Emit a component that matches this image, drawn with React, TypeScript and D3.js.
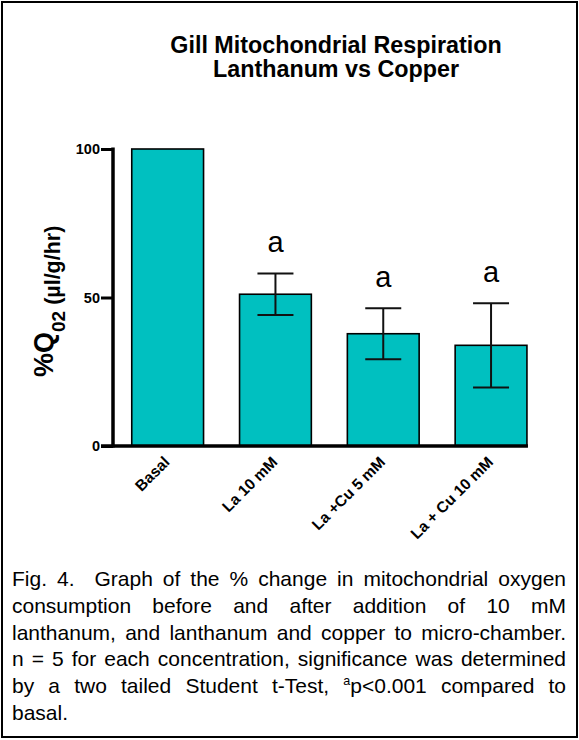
import React, { useEffect, useRef } from "react";
import * as d3 from "d3";

// Chart data
const categories = ["Basal", "La 10 mM", "La +Cu 5 mM", "La + Cu 10 mM"];
const meanValues = [100, 51.1, 37.8, 33.9];
const semValues = [0, 7.0, 8.6, 14.2];
const sigLabels = ["", "a", "a", "a"];
const yTickValues = [0, 50, 100];

const titleLines = ["Gill Mitochondrial Respiration", "Lanthanum vs Copper"];

// Caption lines; "^a" marks a superscript letter
const captionLines = [
  "Fig. 4.  Graph of the % change in mitochondrial oxygen",
  "consumption before and after addition of 10 mM",
  "lanthanum, and lanthanum and copper to micro-chamber.",
  "n = 5 for each concentration, significance was determined",
  "by a two tailed Student t-Test, ^ap<0.001 compared to",
  "basal.",
];

const W = 579;
const H = 740;
const FONT = "'Liberation Sans', Arial, Helvetica, sans-serif";
const TEAL = "#00C0C0";

export default function App() {
  const ref = useRef<SVGSVGElement | null>(null);

  useEffect(() => {
    const svg = d3.select(ref.current);
    svg.selectAll("*").remove();

    // Outer frame
    svg
      .append("rect")
      .attr("x", 2)
      .attr("y", 2)
      .attr("width", 575)
      .attr("height", 735)
      .attr("fill", "white")
      .attr("stroke", "black")
      .attr("stroke-width", 2);

    // Title
    svg
      .append("g")
      .selectAll("text")
      .data(titleLines)
      .join("text")
      .attr("x", 336)
      .attr("y", (_, i) => 53 + i * 23.5)
      .attr("text-anchor", "middle")
      .attr("font-family", FONT)
      .attr("font-weight", "bold")
      .attr("font-size", 23.3)
      .text((d) => d);

    const x = d3
      .scaleBand<string>()
      .domain(categories)
      .range([113, 545.7])
      .paddingInner(0.334)
      .paddingOuter(0.174);
    const y = d3.scaleLinear().domain([0, 100]).range([446, 149]);

    const g = svg.append("g");

    // Bars
    g.selectAll("rect.bar")
      .data(categories)
      .join("rect")
      .attr("class", "bar")
      .attr("x", (d) => x(d)!)
      .attr("width", x.bandwidth())
      .attr("y", (_, i) => y(meanValues[i]))
      .attr("height", (_, i) => y(0) - y(meanValues[i]))
      .attr("fill", TEAL)
      .attr("stroke", "black")
      .attr("stroke-width", 1.6);

    // Error bars (mean ± SEM)
    const capHalf = 18;
    categories.forEach((c, i) => {
      if (semValues[i] <= 0) return;
      const cx = x(c)! + x.bandwidth() / 2;
      const top = y(meanValues[i] + semValues[i]);
      const bot = y(meanValues[i] - semValues[i]);
      const eg = g.append("g").attr("stroke", "#111").attr("stroke-width", 2);
      eg.append("line").attr("x1", cx).attr("x2", cx).attr("y1", top).attr("y2", bot);
      eg.append("line").attr("x1", cx - capHalf).attr("x2", cx + capHalf).attr("y1", top).attr("y2", top);
      eg.append("line").attr("x1", cx - capHalf).attr("x2", cx + capHalf).attr("y1", bot).attr("y2", bot);
    });

    // Significance letters
    g.selectAll("text.sig")
      .data(categories)
      .join("text")
      .attr("class", "sig")
      .attr("x", (d) => x(d)! + x.bandwidth() / 2)
      .attr("y", (_, i) => y(meanValues[i] + semValues[i]) - 21)
      .attr("text-anchor", "middle")
      .attr("font-family", FONT)
      .attr("font-size", 29)
      .text((_, i) => sigLabels[i]);

    // Y axis
    const yAxis = d3
      .axisLeft(y)
      .tickValues(yTickValues)
      .tickSize(12)
      .tickPadding(1)
      .tickFormat(d3.format("d"));
    const ya = svg.append("g").attr("transform", "translate(113,0)").call(yAxis);
    ya.select(".domain")
      .attr("d", `M0,${y(100) - 1.5}V${y(0) + 1.5}`)
      .attr("stroke", "black")
      .attr("stroke-width", 3.5);
    ya.selectAll(".tick line").attr("stroke", "black").attr("stroke-width", 3);
    ya.selectAll(".tick text")
      .attr("font-family", FONT)
      .attr("font-weight", "bold")
      .attr("font-size", 14.5)
      .attr("fill", "black");

    // X axis
    const xAxis = d3.axisBottom(x).tickSize(0).tickPadding(0);
    const xa = svg.append("g").attr("transform", `translate(0,${y(0)})`).call(xAxis);
    xa.select(".domain")
      .attr("d", `M101,0H${x(categories[categories.length - 1])! + x.bandwidth() + 1}`)
      .attr("stroke", "black")
      .attr("stroke-width", 3.5);
    xa.selectAll(".tick text")
      .attr("font-family", FONT)
      .attr("font-weight", "bold")
      .attr("font-size", 15.5)
      .attr("fill", "black")
      .attr("text-anchor", "end")
      .attr("dy", null)
      .attr("y", null)
      .attr("transform", "translate(3,17) rotate(-45)");

    // Y axis title: %Q02 (µl/g/hr)
    const yt = svg
      .append("text")
      .attr("transform", "translate(53,377) rotate(-90)")
      .attr("font-family", FONT)
      .attr("font-weight", "bold")
      .attr("fill", "black");
    yt.append("tspan").attr("font-size", 27).text("%Q");
    yt.append("tspan").attr("font-size", 19).attr("dy", 12).text("02");
    yt.append("tspan").attr("font-size", 21.5).attr("dy", -5).text(" (µl/g/hr)");

    // Caption, justified between left and right margins
    const capFontSize = 21;
    const capFont = `${capFontSize}px 'Liberation Sans', Arial, sans-serif`;
    const canvas = document.createElement("canvas");
    const ctx = canvas.getContext("2d")!;
    ctx.font = capFont;
    const supFont = `${capFontSize * 0.6}px 'Liberation Sans', Arial, sans-serif`;
    const measureWord = (w: string) => {
      if (w.startsWith("^")) {
        ctx.font = supFont;
        const a = ctx.measureText(w.slice(1, 2)).width;
        ctx.font = capFont;
        return a + ctx.measureText(w.slice(2)).width;
      }
      return ctx.measureText(w).width;
    };
    const left = 12;
    const right = 566;
    const cap = svg
      .append("g")
      .attr("font-family", FONT)
      .attr("font-size", capFontSize)
      .attr("fill", "black");
    captionLines.forEach((line, li) => {
      const baseY = 586 + li * 26.8;
      const words = line.split(" ");
      const justify = li < captionLines.length - 1;
      const widths = words.map((w) => (w === "" ? 0 : measureWord(w)));
      const total = d3.sum(widths);
      const gaps = words.length - 1;
      const spaceW = ctx.measureText(" ").width;
      const gapW = justify && gaps > 0 ? (right - left - total) / gaps : spaceW;
      let cx = left;
      words.forEach((w, wi) => {
        if (w !== "") {
          const t = cap.append("text").attr("x", cx).attr("y", baseY);
          if (w.startsWith("^")) {
            t.append("tspan")
              .attr("font-size", capFontSize * 0.6)
              .attr("dy", -8)
              .text(w.slice(1, 2));
            t.append("tspan").attr("dy", 8).text(w.slice(2));
          } else {
            t.text(w);
          }
        }
        cx += widths[wi] + gapW;
      });
    });
  }, []);

  return (
    <svg
      ref={ref}
      width={W}
      height={H}
      style={{ position: "absolute", left: 0, top: 0, background: "white" }}
    />
  );
}
